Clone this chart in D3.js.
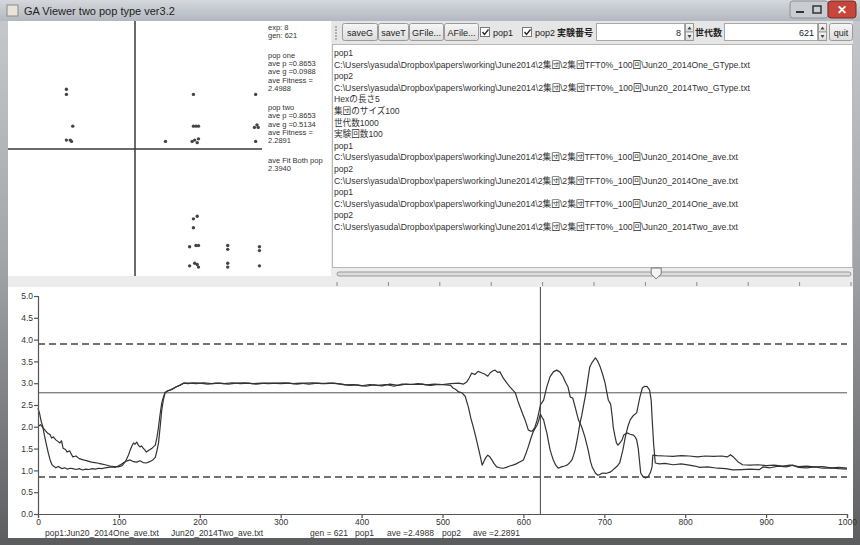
<!DOCTYPE html>
<html>
<head>
<meta charset="utf-8">
<script src="https://d3js.org/d3.v7.min.js"></script>
<style>
  body { margin: 0; background: #fff; }
  svg { display: block; font-family: "Liberation Sans", "Noto Sans CJK JP", sans-serif; }
</style>
</head>
<body>
<svg id="win" width="860" height="545"></svg>
<script>
const currentGen = 621;
const genTicks = [0, 100, 200, 300, 400, 500, 600, 700, 800, 900, 1000];
const fitTicks = [0, 0.5, 1, 1.5, 2, 2.5, 3, 3.5, 4, 4.5, 5];
const dashedLevels = [3.9, 0.85];
const solidLevels = [2.78];

// average fitness per generation [gen, value]
const pop1Ave = [
  [0,2.43],[2,2.3],[4,2.12],[6,2.0],[8,1.8],[11,1.54],[13,1.38],[15,1.24],[17,1.14],[19,1.1],
  [22,1.06],[25,1.09],[27,1.07],[30,1.04],[33,1.06],[36,1.03],[40,1.05],[43,1.04],[47,1.02],[51,1.04],
  [55,1.01],[59,1.03],[63,1.02],[67,1.04],[71,1.03],[75,1.05],[79,1.04],[83,1.06],[87,1.07],[91,1.08],
  [95,1.07],[99,1.1],[103,1.14],[106,1.18],[110,1.22],[114,1.24],[118,1.2],[122,1.19],[126,1.22],[130,1.18],
  [134,1.17],[138,1.2],[142,1.24],[145,1.3],[147,1.45],[149,1.63],[151,2.0],[153,2.39],[155,2.62],[157,2.78],
  [160,2.82],[163,2.84],[167,2.88],[171,2.92],[175,2.95],[180,3.0],[186,2.99],[192,3.01],[200,3.0],[210,2.98],
  [220,3.0],[230,2.99],[240,3.01],[250,2.99],[260,3.0],[270,2.98],[280,3.0],[290,3.0],[300,2.99],[310,3.0],
  [320,2.98],[330,3.0],[340,3.01],[350,2.99],[360,3.0],[370,2.99],[380,2.96],[390,2.97],[400,2.94],[410,2.97],
  [420,2.95],[430,2.97],[440,2.93],[450,2.98],[460,2.97],[470,2.99],[480,2.96],[490,2.98],[500,2.97],[510,2.99],
  [520,3.0],[526,2.98],[530,3.03],[533,3.12],[536,3.23],[540,3.2],[544,3.27],[548,3.24],[552,3.21],[556,3.16],
  [559,3.24],[562,3.28],[565,3.3],[568,3.25],[571,3.26],[575,3.12],[579,3.02],[583,2.92],[587,2.84],[590,2.78],
  [593,2.6],[596,2.45],[599,2.3],[602,2.16],[604,2.05],[606,1.93],[609,1.9],[611,1.9],[614,1.98],[617,2.16],
  [619,2.32],[621,2.5],[625,2.61],[629,2.92],[633,3.15],[637,3.26],[641,3.3],[645,3.26],[649,3.15],[652,3.02],
  [655,2.92],[658,2.68],[661,2.66],[664,2.45],[668,2.16],[672,2.0],[676,1.77],[680,1.47],[683,1.2],[685,1.08],
  [689,0.94],[692,0.89],[695,0.91],[698,0.94],[702,0.93],[707,0.96],[710,1.0],[713,1.05],[716,1.1],[719,1.17],
  [721,1.32],[723,1.47],[726,1.77],[729,2.0],[732,2.16],[736,2.26],[740,2.32],[742,2.5],[744,2.68],[747,2.89],
  [750,2.93],[753,2.92],[756,2.84],[758,2.6],[759,2.23],[761,1.6],[763,1.17],[768,1.15],[775,1.16],[785,1.13],
  [795,1.15],[805,1.12],[812,1.1],[818,1.07],[828,1.08],[840,1.05],[850,1.04],[859,1.01],[870,1.02],[880,1.03],
  [892,1.02],[896,1.08],[905,1.06],[915,1.1],[925,1.08],[933,1.12],[940,1.07],[950,1.06],[960,1.08],[970,1.05],
  [980,1.06],[990,1.04],[1000,1.03]
];
const pop2Ave = [
  [0,2.0],[3,2.05],[6,1.98],[9,1.92],[12,1.85],[15,1.82],[17,1.74],[19,1.77],[22,1.7],[25,1.66],
  [27,1.63],[29,1.68],[31,1.51],[34,1.48],[36,1.42],[39,1.45],[43,1.31],[47,1.33],[51,1.27],[56,1.24],
  [61,1.22],[66,1.19],[70,1.18],[73,1.17],[78,1.15],[83,1.13],[89,1.1],[94,1.09],[99,1.08],[104,1.11],
  [108,1.2],[110,1.28],[112,1.36],[114,1.47],[116,1.56],[118,1.63],[120,1.6],[122,1.65],[124,1.58],[126,1.54],
  [128,1.56],[130,1.51],[132,1.47],[134,1.42],[137,1.46],[141,1.51],[145,1.58],[147,1.75],[149,2.0],[151,2.3],
  [153,2.55],[155,2.68],[157,2.78],[160,2.82],[163,2.84],[167,2.87],[171,2.92],[176,2.96],[180,3.0],[188,3.0],
  [196,2.99],[205,3.01],[215,2.99],[225,3.0],[235,2.98],[245,3.0],[255,3.01],[265,2.99],[275,3.0],[285,2.99],
  [295,3.0],[305,3.01],[315,2.99],[325,3.0],[335,2.98],[345,3.0],[355,2.99],[365,3.0],[375,2.98],[385,2.95],
  [395,2.96],[405,2.93],[415,2.96],[425,2.94],[435,2.98],[445,2.95],[455,2.98],[465,2.97],[475,2.98],[485,2.95],
  [495,2.97],[505,2.96],[510,2.95],[513,2.89],[516,2.86],[520,2.8],[524,2.78],[528,2.7],[532,2.45],[535,2.2],
  [538,2.0],[541,1.78],[544,1.54],[547,1.3],[549,1.12],[551,1.2],[553,1.28],[556,1.35],[559,1.3],[561,1.24],
  [564,1.15],[567,1.08],[571,1.06],[575,1.05],[579,1.07],[583,1.1],[587,1.12],[591,1.15],[596,1.2],[600,1.24],
  [603,1.38],[606,1.54],[609,1.72],[612,1.88],[615,1.98],[617,2.04],[619,2.15],[621,2.29],[623,2.22],[625,2.16],
  [627,2.0],[629,1.86],[631,1.66],[633,1.47],[635,1.35],[637,1.24],[640,1.12],[643,1.05],[647,1.08],[651,1.1],
  [654,1.12],[657,1.17],[660,1.24],[662,1.35],[664,1.47],[666,1.66],[668,1.86],[670,2.09],[672,2.25],[674,2.45],
  [677,2.75],[679,3.0],[681,3.25],[682,3.37],[685,3.48],[689,3.58],[692,3.5],[695,3.37],[698,3.2],[701,3.0],
  [703,2.8],[705,2.61],[707,2.55],[708,2.5],[710,2.2],[711,2.0],[713,1.8],[715,1.63],[717,1.58],[720,1.65],
  [722,1.7],[724,1.81],[728,1.86],[732,1.83],[736,1.81],[738,1.77],[740,1.7],[742,1.5],[743,1.31],[745,0.94],
  [748,0.85],[751,0.83],[754,0.85],[757,0.95],[759,1.08],[760,1.35],[765,1.34],[775,1.33],[785,1.32],[795,1.34],
  [805,1.33],[815,1.31],[825,1.33],[835,1.32],[845,1.33],[852,1.31],[856,1.36],[860,1.3],[865,1.2],[871,1.13],
  [880,1.12],[890,1.13],[900,1.11],[910,1.12],[920,1.1],[930,1.12],[940,1.09],[950,1.1],[960,1.08],[970,1.09],
  [980,1.06],[990,1.07],[1000,1.05]
];

// genotype scatter (p, g) of both populations, axes cross at 0
const genomeDots = [
  [-0.54,0.47],[-0.54,0.43],[-0.49,0.18],[-0.54,0.07],[-0.51,0.07],[-0.5,0.06],
  [0.46,0.43],[0.46,0.18],[0.48,0.18],[0.5,0.18],[0.24,0.06],[0.45,0.06],[0.47,0.07],[0.5,0.08],[0.49,0.05],
  [0.95,0.43],[0.94,0.17],[0.96,0.19],[0.97,0.17],[0.95,0.06],
  [0.46,-0.55],[0.49,-0.53],[0.46,-0.62],[0.43,-0.77],[0.48,-0.76],[0.5,-0.76],[0.73,-0.76],[0.73,-0.79],
  [0.98,-0.77],[0.98,-0.8],[0.43,-0.92],[0.47,-0.9],[0.49,-0.91],[0.5,-0.93],[0.73,-0.9],[0.73,-0.93],[0.98,-0.92]
];

const infoGroups = [
  ["exp: 8", "gen: 621"],
  ["pop one", "ave p =0.8653", "ave g =0.0988", "ave Fitness =", "2.4988"],
  ["pop two", "ave p =0.8653", "ave g =0.5134", "ave Fitness =", "2.2891"],
  ["ave Fit Both pop", "2.3940"]
];

const dir = "C:\\Users\\yasuda\\Dropbox\\papers\\working\\June2014\\2集団\\2集団TFT0%_100回\\";
const logLines = [
  "pop1", dir + "Jun20_2014One_GType.txt",
  "pop2", dir + "Jun20_2014Two_GType.txt",
  "Hexの長さ5", "集団のサイズ100", "世代数1000", "実験回数100",
  "pop1", dir + "Jun20_2014One_ave.txt",
  "pop2", dir + "Jun20_2014One_ave.txt",
  "pop1", dir + "Jun20_2014One_ave.txt",
  "pop2", dir + "Jun20_2014Two_ave.txt"
];
const toolbarButtons = [["saveG", 342, 35], ["saveT", 378, 30], ["GFile...", 409, 34], ["AFile...", 444, 34]];
const footerTexts = [["pop1:Jun20_2014One_ave.txt", 45], ["Jun20_2014Two_ave.txt", 171], ["gen = 621", 310],
  ["pop1", 355], ["ave =2.4988", 387], ["pop2", 442], ["ave =2.2891", 473]];

// ---- window chrome ----
const svg = d3.select("#win");
const defs = svg.append("defs");
const tg = defs.append("linearGradient").attr("id", "title").attr("x1", 0).attr("y1", 0).attr("x2", 0).attr("y2", 1);
tg.append("stop").attr("offset", 0).attr("stop-color", "#d4d8dd");
tg.append("stop").attr("offset", 1).attr("stop-color", "#b3b8bf");
const fg = defs.append("linearGradient").attr("id", "frame").attr("x1", 0).attr("y1", 0).attr("x2", 0).attr("y2", 1);
fg.append("stop").attr("offset", 0).attr("stop-color", "#c4c8cd");
fg.append("stop").attr("offset", 0.45).attr("stop-color", "#a2a5a9");
fg.append("stop").attr("offset", 1).attr("stop-color", "#5c5d5f");
const bg = defs.append("linearGradient").attr("id", "btn").attr("x1", 0).attr("y1", 0).attr("x2", 0).attr("y2", 1);
bg.append("stop").attr("offset", 0).attr("stop-color", "#f6f6f6");
bg.append("stop").attr("offset", 1).attr("stop-color", "#dcdcdc");

svg.append("rect").attr("width", 860).attr("height", 545).attr("fill", "#ececec");
svg.append("rect").attr("width", 860).attr("height", 21).attr("fill", "url(#title)");
svg.append("rect").attr("x", 0).attr("y", 21).attr("width", 8).attr("height", 524).attr("fill", "url(#frame)");
svg.append("rect").attr("x", 853).attr("y", 21).attr("width", 7).attr("height", 524).attr("fill", "url(#frame)");
svg.append("rect").attr("x", 0).attr("y", 538).attr("width", 860).attr("height", 7).attr("fill", "#5c5d5f");

svg.append("rect").attr("x", 7).attr("y", 5).attr("width", 11).attr("height", 11).attr("fill", "#e8e4d8").attr("stroke", "#8a8a8a");
svg.append("text").attr("x", 24).attr("y", 15).attr("font-size", 11).attr("fill", "#1e1e1e")
  .text("GA Viewer two pop type ver3.2");
// min / max / close
svg.append("rect").attr("x", 790).attr("y", 1).attr("width", 38).attr("height", 17).attr("rx", 3)
  .attr("fill", "#c9ccd1").attr("stroke", "#8d9096");
svg.append("line").attr("x1", 796).attr("x2", 804).attr("y1", 12).attr("y2", 12).attr("stroke", "#333").attr("stroke-width", 2);
svg.append("rect").attr("x", 813).attr("y", 6).attr("width", 8).attr("height", 7).attr("fill", "none").attr("stroke", "#333").attr("stroke-width", 1.5);
svg.append("rect").attr("x", 828).attr("y", 1).attr("width", 28).attr("height", 17).attr("rx", 3)
  .attr("fill", "#c7463c").attr("stroke", "#7a2b25");
svg.append("text").attr("x", 842).attr("y", 14).attr("text-anchor", "middle").attr("font-size", 12)
  .attr("font-weight", "bold").attr("fill", "#fff").text("✕");

// ---- genotype panel (top left) ----
svg.append("rect").attr("x", 8).attr("y", 21).attr("width", 323).attr("height", 255).attr("fill", "#fff");
const sx = d3.scaleLinear().domain([-1, 1]).range([8, 262]);
const sy = d3.scaleLinear().domain([-1, 1]).range([276, 22]);
svg.append("line").attr("x1", sx(0)).attr("x2", sx(0)).attr("y1", 21).attr("y2", 276).attr("stroke", "#3a3a3a").attr("stroke-width", 1.5);
svg.append("line").attr("x1", sx(-1)).attr("x2", sx(1)).attr("y1", sy(0)).attr("y2", sy(0)).attr("stroke", "#3a3a3a").attr("stroke-width", 1.5);
svg.append("g").selectAll("circle").data(genomeDots).join("circle")
  .attr("cx", d => sx(d[0])).attr("cy", d => sy(d[1])).attr("r", 1.7).attr("fill", "#444");

// stacked stats text, tight leading as in the viewer
const info = svg.append("g").attr("font-size", 7.5).attr("fill", "#333");
let iy = 30;
infoGroups.forEach(group => {
  group.forEach(line => {
    info.append("text").attr("x", 268).attr("y", iy).text(line);
    iy += 8.3;
  });
  iy += 11;
});

// ---- toolbar ----
svg.append("rect").attr("x", 332).attr("y", 21).attr("width", 521).attr("height", 23).attr("fill", "#e6e6e6");
for (let gy = 26; gy < 41; gy += 3) {
  svg.append("rect").attr("x", 335).attr("y", gy).attr("width", 2).attr("height", 2).attr("fill", "#b0b0b0");
}
const tb = svg.append("g").attr("font-size", 9).attr("fill", "#222");
function button(label, x, w) {
  tb.append("rect").attr("x", x + 0.5).attr("y", 23.5).attr("width", w).attr("height", 17).attr("rx", 2)
    .attr("fill", "url(#btn)").attr("stroke", "#9a9a9a");
  tb.append("text").attr("x", x + w / 2 + 0.5).attr("y", 35.5).attr("text-anchor", "middle").text(label);
}
toolbarButtons.forEach(b => button(b[0], b[1], b[2]));
button("quit", 829, 23);
function checkbox(label, x) {
  tb.append("rect").attr("x", x + 0.5).attr("y", 27.5).attr("width", 9).attr("height", 9).attr("fill", "#fff").attr("stroke", "#7a7a7a");
  tb.append("path").attr("d", `M${x + 2.5},${32} l2,2.5 l4,-5`).attr("fill", "none").attr("stroke", "#222").attr("stroke-width", 1.3);
  tb.append("text").attr("x", x + 13).attr("y", 35.5).text(label);
}
checkbox("pop1", 480);
checkbox("pop2", 522);
function spinField(label, lx, fx, fw, value) {
  tb.append("text").attr("x", lx).attr("y", 35.5).attr("font-weight", "bold").text(label);
  tb.append("rect").attr("x", fx + 0.5).attr("y", 23.5).attr("width", fw).attr("height", 17).attr("fill", "#fff").attr("stroke", "#a8a8a8");
  tb.append("text").attr("x", fx + fw - 3).attr("y", 35.5).attr("text-anchor", "end").text(value);
  const sx0 = fx + fw + 1;
  [23.5, 32].forEach((yy, i) => {
    tb.append("rect").attr("x", sx0 + 0.5).attr("y", yy).attr("width", 8).attr("height", 8.5).attr("fill", "url(#btn)").attr("stroke", "#9a9a9a");
    tb.append("path").attr("d", i === 0 ? `M${sx0 + 2.5},${yy + 6} l2,-3 l2,3z` : `M${sx0 + 2.5},${yy + 3} l2,3 l2,-3z`).attr("fill", "#444");
  });
}
spinField("実験番号", 557, 596, 88, "8");
spinField("世代数", 695, 724, 93, "621");

// ---- log text area ----
svg.append("rect").attr("x", 332.5).attr("y", 44.5).attr("width", 520).attr("height", 223).attr("fill", "#fff").attr("stroke", "#b8b8b8");
const log = svg.append("g").attr("font-size", 8.6).attr("fill", "#333");
logLines.forEach((line, i) => {
  const t = log.append("text").attr("x", 334).attr("y", 56 + i * 11.6).text(line);
  if (line.startsWith("C:")) t.attr("textLength", line.endsWith("GType.txt") ? 416 : 404).attr("lengthAdjust", "spacingAndGlyphs");
});

// ---- generation slider ----
const sliderX = d3.scaleLinear().domain([0, 1000]).range([337, 851]);
svg.append("rect").attr("x", sliderX(0)).attr("y", 272).attr("width", sliderX(1000) - sliderX(0)).attr("height", 4)
  .attr("rx", 2).attr("fill", "#dcdcdc").attr("stroke", "#999");
svg.append("g").selectAll("line").data(genTicks).join("line")
  .attr("x1", d => sliderX(d)).attr("x2", d => sliderX(d)).attr("y1", 282).attr("y2", 286).attr("stroke", "#8a8a8a");
svg.append("path")
  .attr("d", `M${sliderX(currentGen) - 5},268 h10 v6 l-5,5 l-5,-5z`)
  .attr("fill", "#f4f4f4").attr("stroke", "#777");

// ---- fitness chart ----
svg.append("rect").attr("x", 8).attr("y", 287).attr("width", 845).attr("height", 251).attr("fill", "#fff");
const x = d3.scaleLinear().domain([0, 1000]).range([38, 847]);
const y = d3.scaleLinear().domain([0, 5]).range([514, 296]);

const chart = svg.append("g");
chart.selectAll("line.dash").data(dashedLevels).join("line").attr("class", "dash")
  .attr("x1", x(0)).attr("x2", x(1000)).attr("y1", d => y(d)).attr("y2", d => y(d))
  .attr("stroke", "#444").attr("stroke-width", 1.5).attr("stroke-dasharray", "7,4");
chart.selectAll("line.solid").data(solidLevels).join("line").attr("class", "solid")
  .attr("x1", x(0)).attr("x2", x(1000)).attr("y1", d => y(d)).attr("y2", d => y(d))
  .attr("stroke", "#555").attr("stroke-width", 1);
chart.append("line").attr("x1", x(currentGen)).attr("x2", x(currentGen)).attr("y1", 287).attr("y2", y(0))
  .attr("stroke", "#444").attr("stroke-width", 1);

const line = d3.line().x(d => x(d[0])).y(d => y(d[1]));
[pop1Ave, pop2Ave].forEach(series => {
  chart.append("path").datum(series).attr("d", line)
    .attr("fill", "none").attr("stroke", "#333").attr("stroke-width", 1.2).attr("stroke-linejoin", "round");
});

const yAxis = chart.append("g").attr("transform", `translate(${x(0)},0)`)
  .call(d3.axisLeft(y).tickValues(fitTicks).tickFormat(d3.format(".1f")).tickSize(4).tickPadding(1));
const xAxis = chart.append("g").attr("transform", `translate(0,${y(0)})`)
  .call(d3.axisBottom(x).tickValues(genTicks).tickFormat(d3.format("d")).tickSize(4).tickPadding(1));
[yAxis, xAxis].forEach(a => {
  a.selectAll("path,line").attr("stroke", "#555").attr("stroke-width", 1.2);
  a.selectAll("text").attr("font-family", "Liberation Sans").attr("font-size", 8.5).attr("fill", "#333");
});

const foot = svg.append("g").attr("font-size", 8.5).attr("fill", "#333");
footerTexts.forEach(d => {
  foot.append("text").attr("x", d[1]).attr("y", 535.5).text(d[0]);
});
</script>
</body>
</html>
